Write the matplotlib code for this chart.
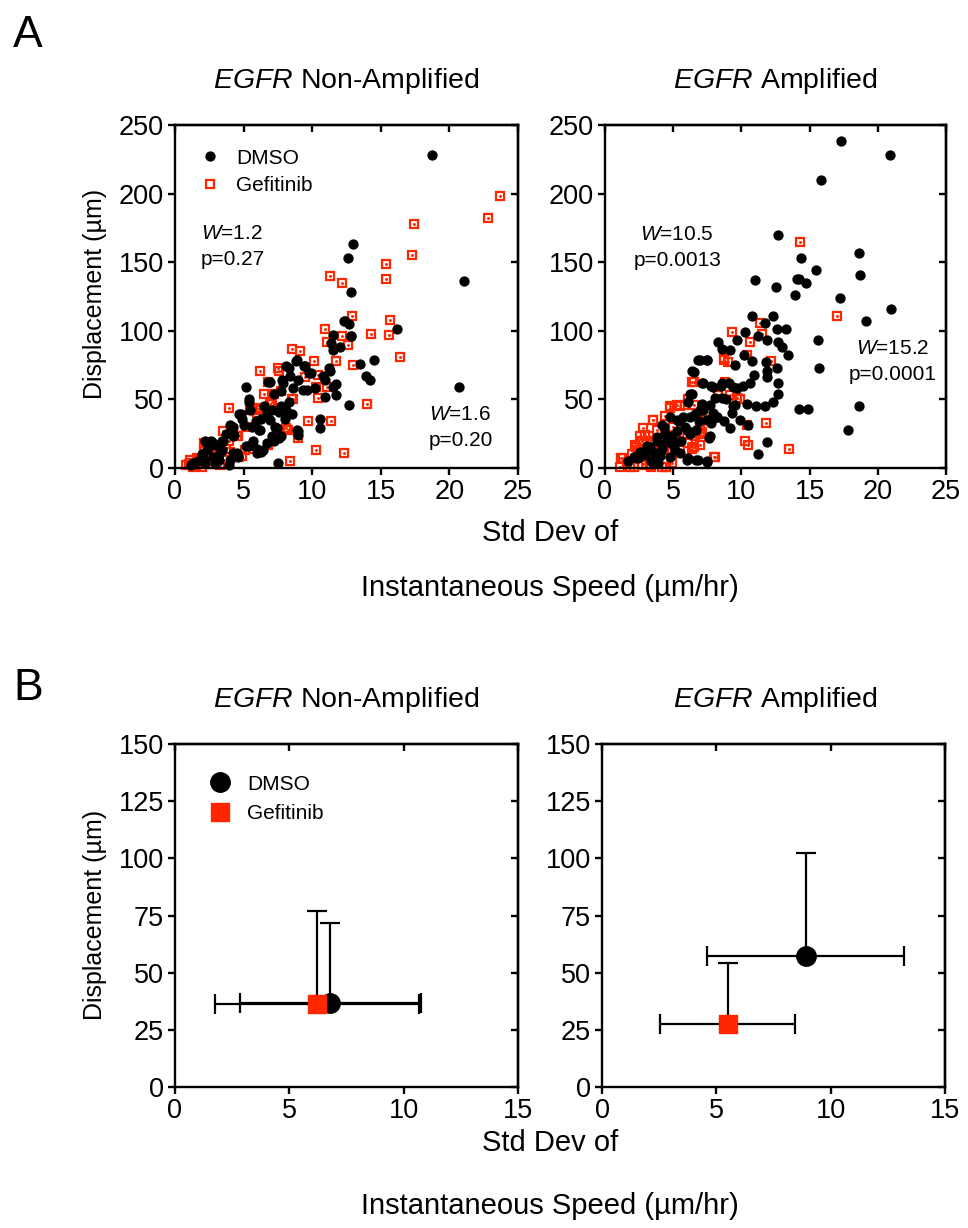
import numpy as np
import matplotlib.pyplot as plt

plt.rcParams['font.family'] = ['Liberation Sans', 'DejaVu Sans']
plt.rcParams['mathtext.fontset'] = 'custom'
plt.rcParams['mathtext.rm'] = 'Liberation Sans'
plt.rcParams['mathtext.it'] = 'Liberation Sans:italic'

RED = '#ff2600'

# ---- panel A: single cells (std dev of speed, displacement) ----
nonamp_dmso = [
    (18.7, 228), (13.0, 163), (12.6, 153), (21.1, 136), (12.8, 128), (20.7, 59),
    (16.2, 101), (12.3, 107), (12.7, 105), (12.8, 96), (11.5, 97), (11.5, 86),
    (14.5, 79), (13.5, 76), (13.9, 67), (14.2, 64), (12.7, 46), (10.6, 36),
    (10.6, 29), (7.5, 3.4), (5.2, 59), (8.1, 74), (8.8, 78), (9.4, 74), (9.9, 69),
    (9.6, 57), (10.9, 64), (11.3, 71), (11.5, 59), (11.7, 53), (10.9, 52), (8.4, 67),
    (7.9, 62), (8.6, 58), (6.9, 63), (7.2, 54), (5.4, 50), (5.5, 42), (4.7, 39),
    (5.0, 31), (6.7, 40), (7.7, 45), (8.1, 42), (8.5, 39), (6.9, 35), (7.4, 29),
    (6.2, 28), (8.9, 28), (9.0, 24), (4.0, 31), (4.3, 24), (3.5, 20), (3.0, 17),
    (2.6, 20), (3.3, 11), (2.8, 8), (2.1, 6), (1.3, 3.4), (2.3, 13), (6.4, 13),
    (6.7, 18), (5.7, 20), (5.2, 16), (6.0, 11), (4.5, 11), (4.0, 6), (7.7, 23),
    (7.2, 20), (5.4, 48), (6.8, 63), (7.7, 56), (7.8, 64), (8.3, 73), (9.0, 64),
    (9.3, 57), (4.8, 39), (4.9, 36), (6.3, 36), (7.1, 42), (7.6, 41), (8.0, 36),
    (7.3, 30), (9.0, 27), (7.1, 23), (7.6, 22), (5.6, 30), (6.1, 28), (4.2, 30),
    (4.2, 23), (3.4, 20), (2.7, 19), (2.5, 16), (3.4, 13), (4.2, 11), (4.6, 8),
    (5.4, 16), (6.0, 14), (6.3, 12), (3.2, 6), (2.2, 3.4), (1.7, 5), (1.2, 2),
    (2.9, 3.4), (3.9, 2), (11.4, 91), (11.2, 73), (10.8, 67), (11.7, 61), (9.5, 74),
    (9.8, 69), (8.9, 79), (12.4, 107), (12.8, 96), (2.2, 20), (2.0, 10), (3.7, 25),
    (5.9, 34), (6.5, 45), (8.3, 48), (10.2, 58), (12.0, 88),
]
nonamp_gef = [
    (23.7, 198), (22.8, 182), (17.4, 178), (17.3, 155), (15.4, 149), (15.4, 138),
    (11.3, 140), (12.2, 135), (12.9, 111), (10.9, 101), (15.7, 108), (14.3, 98),
    (15.6, 97), (12.2, 96), (12.6, 90), (11.1, 92), (16.4, 81), (8.5, 87), (9.1, 85),
    (10.1, 78), (11.7, 78), (13.0, 75), (6.2, 71), (7.5, 73), (10.4, 68), (9.5, 66),
    (10.3, 59), (11.1, 59), (6.5, 54), (7.7, 56), (8.6, 50), (10.4, 51), (14.0, 47),
    (3.9, 44), (5.6, 44), (6.9, 47), (9.7, 34), (11.4, 34), (8.1, 29), (9.0, 22),
    (10.3, 13), (12.3, 11), (8.4, 5), (4.7, 8), (1.0, 3), (1.3, 1), (1.8, 6),
    (2.1, 13), (2.8, 3), (3.3, 2), (3.5, 27), (4.5, 23), (5.2, 30), (6.0, 40),
    (7.6, 71), (6.8, 63), (7.2, 54), (8.5, 50), (5.5, 42), (5.9, 42), (6.3, 44),
    (7.1, 48), (8.2, 28), (6.8, 17), (5.7, 14), (4.9, 9), (0.8, 2), (1.6, 7),
    (2.2, 13), (2.1, 18), (2.9, 9.5), (3.7, 14), (4.6, 23), (5.1, 13), (1.2, 4),
    (1.5, 2), (2.0, 1), (2.4, 5), (3.0, 8), (2.6, 11), (3.3, 16), (3.9, 20),
    (4.2, 26), (4.0, 12), (1.1, 6),
]
amp_dmso = [
    (17.3, 238), (20.9, 228), (15.8, 210), (12.7, 170), (18.6, 157), (14.4, 153),
    (15.5, 144), (18.7, 141), (11.0, 137), (12.5, 132), (14.1, 138), (14.2, 138),
    (14.7, 135), (13.9, 126), (17.2, 124), (21.0, 116), (19.1, 107), (12.3, 111),
    (11.7, 106), (10.8, 111), (12.6, 101), (13.3, 101), (10.3, 99), (11.2, 96),
    (11.9, 93), (12.7, 92), (13.0, 88), (13.4, 82), (15.6, 93), (15.7, 73),
    (8.3, 92), (8.6, 87), (9.2, 86), (9.7, 93), (10.2, 82), (10.8, 78), (11.8, 77),
    (6.8, 79), (7.5, 79), (6.4, 71), (9.5, 75), (11.9, 71), (12.6, 73), (11.9, 66),
    (10.9, 68), (12.7, 62), (10.6, 62), (10.1, 60), (9.7, 58), (9.1, 62), (8.5, 60),
    (7.8, 60), (7.1, 62), (12.7, 54), (12.3, 48), (11.7, 45), (11.1, 45), (10.4, 47),
    (9.5, 46), (8.6, 51), (8.1, 51), (7.7, 46), (7.1, 47), (6.4, 54), (6.1, 48),
    (14.2, 43), (14.9, 43), (18.6, 45), (17.8, 28), (9.3, 40), (9.9, 35), (10.5, 31),
    (9.2, 29), (8.7, 34), (7.8, 33), (7.9, 40), (7.2, 42), (6.6, 39), (5.7, 37),
    (5.4, 34), (5.9, 30), (6.7, 28), (5.3, 27), (4.9, 23), (4.2, 31), (4.4, 25),
    (4.5, 19), (3.8, 20), (4.2, 14), (3.7, 11), (3.3, 14), (2.9, 10), (2.4, 7),
    (2.1, 8), (1.7, 5), (3.4, 5), (3.9, 3.4), (4.8, 8), (5.1, 13), (5.5, 11),
    (6.0, 6), (6.7, 6), (7.5, 5), (7.6, 22), (11.9, 19), (11.2, 10), (6.2, 25),
    (5.0, 17), (4.0, 9), (3.1, 16), (2.6, 12), (6.9, 34), (8.2, 37),
    (2.1, 8), (2.8, 9.5), (3.3, 15.5), (3.5, 3.4), (4.0, 10.7), (3.8, 22.8),
    (4.3, 30), (4.8, 37), (5.3, 35), (4.6, 23), (5.1, 18), (5.6, 20), (6.0, 28),
    (6.2, 37), (7.0, 42), (7.5, 35), (7.7, 23), (8.2, 37), (8.9, 50), (9.4, 45),
    (7.0, 79), (7.5, 79), (6.5, 70), (7.2, 62), (7.9, 59), (8.6, 62), (9.4, 59),
    (6.2, 54), (6.1, 7), (6.8, 6), (7.5, 4.6),
]
amp_gef = [
    (14.3, 165), (17.0, 111), (9.3, 99), (11.4, 106), (11.5, 98), (10.6, 92),
    (8.7, 79), (9.0, 77), (12.2, 78), (10.4, 82), (6.5, 63), (8.8, 63), (8.3, 53),
    (9.2, 53), (9.9, 50), (4.8, 44), (5.5, 45), (6.1, 50), (3.5, 35), (10.4, 31),
    (11.8, 33), (7.0, 25), (10.3, 20), (10.5, 17), (13.5, 14), (6.4, 14), (7.0, 17),
    (8.0, 8), (2.9, 24), (2.7, 20), (3.2, 23), (2.2, 17), (2.4, 13), (1.2, 7),
    (1.1, 1), (1.8, 1), (2.7, 2), (3.4, 1), (4.2, 1), (4.5, 1), (4.9, 3.4),
    (5.1, 11), (6.6, 23), (5.9, 46), (7.3, 35), (5.4, 20), (6.1, 18), (3.8, 28),
    (4.4, 38), (1.6, 4), (2.0, 10), (3.0, 6), (3.7, 12), (4.1, 17), (5.0, 30),
    (3.5, 35), (2.8, 29), (2.6, 23), (3.1, 20), (2.3, 15.5), (1.3, 7), (2.1, 1),
    (3.3, 2.2), (4.5, 1), (4.8, 45), (5.3, 46), (6.4, 63), (7.0, 33), (6.5, 15.5),
    (7.1, 26.5), (8.1, 8.3), (8.7, 80), (5.3, 20), (5.7, 25), (4.3, 13), (4.0, 20),
    (5.5, 13), (7.0, 40), (6.5, 46), (8.3, 53), (9.7, 51),
]

# ---- panel B: mean with SD ----
groups = ['DMSO', 'Gefitinib']
nonamp_mean_x = [6.8, 6.2]
nonamp_mean_y = [36.6, 36.3]
nonamp_sd_x = [3.95, 4.47]
nonamp_sd_y = [35.2, 40.8]
amp_mean_x = [8.9, 5.5]
amp_mean_y = [57.3, 27.5]
amp_sd_x = [4.3, 2.95]
amp_sd_y = [45.1, 26.6]

W, H = 968, 1228
fig = plt.figure(figsize=(W / 100, H / 100), dpi=100)


def px_axes(left, top, right, bottom):
    return fig.add_axes([left / W, 1 - bottom / H, (right - left) / W, (bottom - top) / H])


def style(ax, xmax, xstep, ymax, ystep):
    ax.set_xlim(0, xmax)
    ax.set_ylim(0, ymax)
    ax.set_xticks(np.arange(0, xmax + 0.1, xstep))
    ax.set_yticks(np.arange(0, ymax + 0.1, ystep))
    for s in ax.spines.values():
        s.set_linewidth(1.7)
    ax.tick_params(direction='out', length=5, width=1.7, labelsize=19.5, pad=3)
    top = ax.secondary_xaxis('top')
    top.set_xticks(ax.get_xticks())
    top.tick_params(direction='in', length=5, width=1.7, labeltop=False)
    top.spines['top'].set_linewidth(1.7)
    right = ax.secondary_yaxis('right')
    right.set_yticks(ax.get_yticks())
    right.tick_params(direction='in', length=5, width=1.7, labelright=False)
    right.spines['right'].set_linewidth(1.7)


def scatter_panel(ax, dmso, gef):
    gx, gy = zip(*gef)
    dx, dy = zip(*dmso)
    g, = ax.plot(gx, gy, 's', ms=6.2, mfc='none', mec=RED, mew=1.6, clip_on=False)
    ax.plot(gx, gy, '.', ms=2.2, color=RED, clip_on=False)
    d, = ax.plot(dx, dy, 'o', ms=6.4, color='black', mec='black', clip_on=False)
    return d, g


def mean_panel(ax, mx, my, sx, sy):
    d = ax.errorbar(mx[0], my[0], xerr=sx[0], yerr=[[0], [sy[0]]], fmt='o', ms=14,
                    color='black', ecolor='black', elinewidth=1.6, capsize=7, capthick=1.6,
                    clip_on=False)
    g = ax.errorbar(mx[1], my[1], xerr=sx[1], yerr=[[0], [sy[1]]], fmt='s', ms=13,
                    color=RED, mec=RED, ecolor='black', elinewidth=1.6, capsize=7,
                    capthick=1.6, clip_on=False)
    return d, g


# panel A
axA1 = px_axes(175, 125, 518, 468)
axA2 = px_axes(605, 125, 946, 468)
for ax in (axA1, axA2):
    style(ax, 25, 5, 250, 50)

d, g = scatter_panel(axA1, nonamp_dmso, nonamp_gef)
scatter_panel(axA2, amp_dmso, amp_gef)
axA1.legend([d, g], groups, loc='upper left', bbox_to_anchor=(0.047, 0.955), frameon=False,
            fontsize=15, handlelength=1.0, handletextpad=0.75, labelspacing=0.4,
            borderaxespad=0)

axA1.text(1.9, 178, '$W$=1.2\np=0.27', fontsize=15, ha='left', va='top', linespacing=1.45)
axA1.text(18.5, 46, '$W$=1.6\np=0.20', fontsize=15, ha='left', va='top', linespacing=1.45)
axA2.text(5.3, 177, '$W$=10.5\np=0.0013', fontsize=15, ha='center', va='top',
          multialignment='center', linespacing=1.45)
axA2.text(21.1, 94, '$W$=15.2\np=0.0001', fontsize=15, ha='center', va='top',
          multialignment='center', linespacing=1.45)

# panel B
axB1 = px_axes(175, 744, 518, 1087)
axB2 = px_axes(602, 744, 945, 1087)
for ax in (axB1, axB2):
    style(ax, 15, 5, 150, 25)

d, g = mean_panel(axB1, nonamp_mean_x, nonamp_mean_y, nonamp_sd_x, nonamp_sd_y)
mean_panel(axB2, amp_mean_x, amp_mean_y, amp_sd_x, amp_sd_y)
axB1.legend([d[0], g[0]], groups, loc='upper left', bbox_to_anchor=(0.077, 0.935),
            frameon=False, fontsize=15, handlelength=1.0, handletextpad=0.8,
            labelspacing=0.5, borderaxespad=0)

# shared text
def ftext(x, y, s, **kw):
    fig.text(x / W, 1 - y / H, s, **kw)


ftext(13, 47, 'A', fontsize=32, va='baseline')
ftext(13, 700, 'B', fontsize=32, va='baseline')
for top in (81, 700):
    ftext(346, top, '$EGFR$ Non-Amplified', fontsize=20.5, ha='center', va='center')
    ftext(775, top, '$EGFR$ Amplified', fontsize=20.5, ha='center', va='center')
for yc in (294, 915):
    ftext(95, yc, 'Displacement (µm)', fontsize=18, rotation=90, ha='center', va='center')
for y1, y2 in ((533, 588), (1143, 1206)):
    ftext(550, y1, 'Std Dev of', fontsize=21, ha='center', va='center')
    ftext(550, y2, 'Instantaneous Speed (µm/hr)', fontsize=21, ha='center', va='center')

fig.savefig('out.png', dpi=100)
